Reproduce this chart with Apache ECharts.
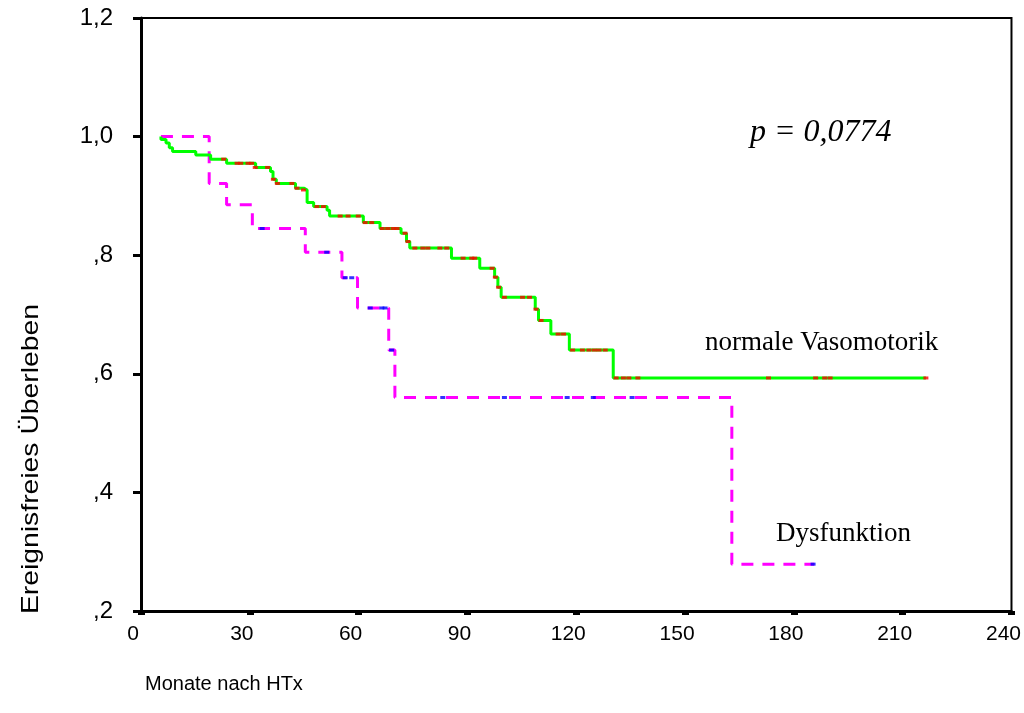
<!DOCTYPE html>
<html>
<head>
<meta charset="utf-8">
<script src="https://cdn.jsdelivr.net/npm/echarts@6/dist/echarts.min.js"></script>
<style>
html,body{margin:0;padding:0;background:#fff;}
#chart{width:1024px;height:713px;}
</style>
</head>
<body>
<div id="chart"></div>
<script>
// Kaplan-Meier: normale Vasomotorik (months, survival)
var normalTimes = [5.5, 5.5, 6.9, 7.8, 8.7, 15.1, 19.2, 23.6, 31.6, 35.7, 36.4, 37.3, 42.6, 45.0, 45.8, 47.6, 51.3, 52.0, 61.3, 65.9, 71.7, 73.2, 74.1, 85.6, 93.4, 97.5, 98.4, 99.3, 108.7, 109.6, 113.0, 118.1, 130.2, 216.4];
var normalSurv  = [1.000, 0.995, 0.989, 0.981, 0.975, 0.969, 0.962, 0.955, 0.948, 0.941, 0.928, 0.921, 0.913, 0.910, 0.889, 0.882, 0.876, 0.866, 0.855, 0.845, 0.837, 0.823, 0.812, 0.795, 0.778, 0.763, 0.746, 0.729, 0.709, 0.690, 0.667, 0.640, 0.593, 0.593];
// censored observations on normale Vasomotorik
var normalCensTimes = [22.8, 26.5, 27.5, 29.5, 30.5, 31.5, 34.9, 36.5, 37.6, 41.6, 43.0, 44.8, 48.5, 50.3, 54.9, 57.1, 59.9, 61.8, 63.6, 66.5, 68.0, 69.5, 70.6, 72.8, 73.6, 75.5, 77.7, 79.1, 82.4, 84.3, 88.8, 91.2, 92.0, 96.8, 97.7, 98.6, 100.2, 105.2, 107.1, 108.9, 110.3, 115.0, 116.5, 119.0, 121.7, 123.5, 125.0, 126.3, 128.0, 131.0, 133.0, 134.5, 137.0, 173.0, 186.0, 188.5, 190.0, 216.4];
var normalCensSurv  = [0.962, 0.955, 0.955, 0.955, 0.955, 0.948, 0.948, 0.928, 0.921, 0.921, 0.913, 0.910, 0.882, 0.882, 0.866, 0.866, 0.866, 0.855, 0.855, 0.845, 0.845, 0.845, 0.845, 0.837, 0.823, 0.812, 0.812, 0.812, 0.812, 0.812, 0.795, 0.795, 0.795, 0.778, 0.763, 0.746, 0.729, 0.729, 0.729, 0.709, 0.690, 0.667, 0.667, 0.640, 0.640, 0.640, 0.640, 0.640, 0.640, 0.593, 0.593, 0.593, 0.593, 0.593, 0.593, 0.593, 0.593, 0.593];

// Kaplan-Meier: Dysfunktion
var dysTimes = [5.5, 18.8, 23.6, 30.7, 45.3, 55.4, 59.7, 68.3, 70.0, 162.9, 185.6];
var dysSurv  = [1.000, 0.921, 0.885, 0.845, 0.805, 0.762, 0.711, 0.640, 0.560, 0.279, 0.279];
var dysCensTimes = [33.4, 51.2, 56.3, 58.1, 63.2, 66.4, 67.3, 69.1, 83.2, 100.2, 117.5, 124.7, 135.4, 185.3];
var dysCensSurv  = [0.845, 0.805, 0.762, 0.762, 0.711, 0.711, 0.711, 0.640, 0.560, 0.560, 0.560, 0.560, 0.560, 0.279];

var yTickValues = [0.2, 0.4, 0.6, 0.8, 1.0, 1.2];
var yTickLabels = [',2', ',4', ',6', ',8', '1,0', '1,2'];
var xTickLabels = ['0', '30', '60', '90', '120', '150', '180', '210', '240'];

var xTitle = 'Monate nach HTx';
var yTitle = 'Ereignisfreies Überleben';
var pText = 'p = 0,0774';
var normalLabel = 'normale Vasomotorik';
var dysLabel = 'Dysfunktion';

function zip(a, b) { return a.map(function (v, i) { return [v, b[i]]; }); }

var chart = echarts.init(document.getElementById('chart'), null, {renderer: 'canvas'});
chart.setOption({
  animation: false,
  backgroundColor: '#fff',
  grid: {left: 141, right: 10, top: 18, bottom: 102, show: true, borderColor: '#000', borderWidth: 2, backgroundColor: 'transparent'},
  xAxis: {
    type: 'value', min: 0, max: 240, interval: 30,
    axisLine: {show: true, lineStyle: {color: '#000', width: 3}},
    axisTick: {show: true, length: 4, lineStyle: {color: '#000', width: 7}},
    splitLine: {show: false},
    axisLabel: {
      color: '#000', fontFamily: 'Liberation Sans, Arial', fontSize: 21, margin: 13,
      padding: [0, 16, 0, 0],
      formatter: function (v) { var i = Math.round(v / 30); return xTickLabels[i] || ''; }
    }
  },
  yAxis: {
    type: 'value', min: 0.2, max: 1.2, interval: 0.2,
    axisLine: {show: true, lineStyle: {color: '#000', width: 3}},
    axisTick: {show: true, length: 8, lineStyle: {color: '#000', width: 3}},
    splitLine: {show: false},
    axisLabel: {
      color: '#000', fontFamily: 'Liberation Sans, Arial', fontSize: 24, margin: 28,
      formatter: function (v) {
        for (var i = 0; i < yTickValues.length; i++) { if (Math.abs(yTickValues[i] - v) < 1e-6) return yTickLabels[i]; }
        return '';
      }
    }
  },
  series: [
    {
      name: dysLabel, type: 'line', step: 'end', showSymbol: false, symbol: 'none',
      data: zip(dysTimes, dysSurv),
      lineStyle: {color: '#ff00ff', width: 3, type: [12, 9]}, z: 2
    },
    {
      name: normalLabel, type: 'line', step: 'end', showSymbol: false, symbol: 'none',
      data: zip(normalTimes, normalSurv),
      lineStyle: {color: '#00ff00', width: 3}, z: 3
    },
    {
      type: 'scatter', data: zip(normalCensTimes, normalCensSurv),
      symbol: 'rect', symbolSize: [5, 3], itemStyle: {color: '#ff0000'}, z: 4
    },
    {
      type: 'scatter', data: zip(dysCensTimes, dysCensSurv),
      symbol: 'rect', symbolSize: [5, 3], itemStyle: {color: '#0000ff'}, z: 4
    }
  ],
  graphic: [
    {type: 'text', x: 750, y: 133, style: {text: pText, fill: '#000', font: 'italic 32px "Liberation Serif", "Times New Roman", serif', textAlign: 'left', textVerticalAlign: 'middle'}},
    {type: 'text', x: 705, y: 343, style: {text: normalLabel, fill: '#000', font: '27px "Liberation Serif", "Times New Roman", serif', textAlign: 'left', textVerticalAlign: 'middle'}},
    {type: 'text', x: 776, y: 534, style: {text: dysLabel, fill: '#000', font: '27px "Liberation Serif", "Times New Roman", serif', textAlign: 'left', textVerticalAlign: 'middle'}},
    {type: 'text', x: 145, y: 684, style: {text: xTitle, fill: '#000', font: '20px "Liberation Sans", Arial, sans-serif', textAlign: 'left', textVerticalAlign: 'middle'}},
    {type: 'text', x: 31, y: 459, rotation: Math.PI / 2, scaleX: 1.18, style: {text: yTitle, fill: '#000', font: '24px "Liberation Sans", Arial, sans-serif', textAlign: 'center', textVerticalAlign: 'middle'}}
  ]
});
</script>
</body>
</html>
